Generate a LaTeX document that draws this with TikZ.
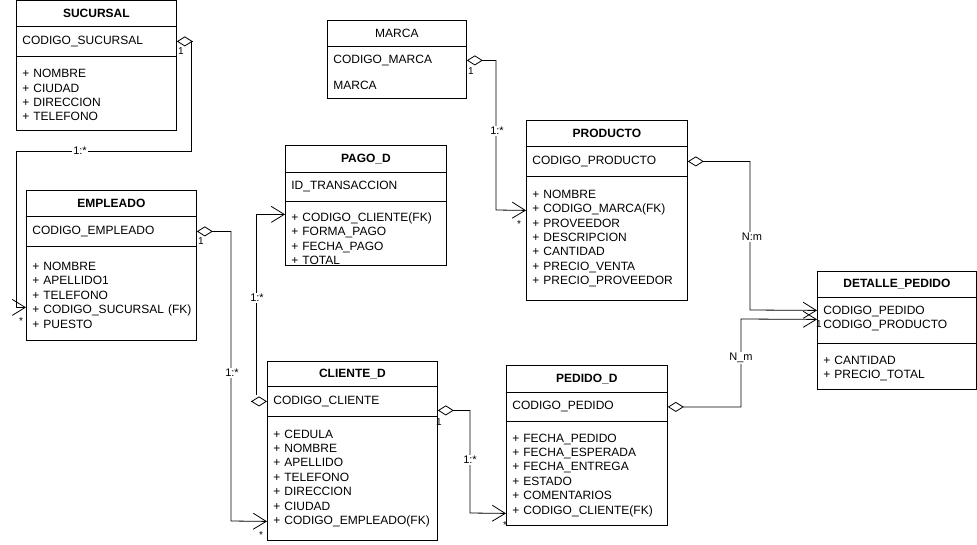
\documentclass[tikz,border=0pt]{standalone}
\usepackage{fontspec}
\setmainfont{Liberation Sans}
\usetikzlibrary{arrows.meta}

\begin{document}
\begin{tikzpicture}[x=1pt, y=-1pt, line width=0.8pt,
    ttl/.style={rectangle, draw, anchor=north west, inner sep=0pt, font=\fontsize{12}{14.4}\selectfont\bfseries},
    cmp/.style={rectangle, draw, anchor=north west, align=left, inner xsep=6pt, inner ysep=0pt, font=\fontsize{12}{14.4}\selectfont},
    rel/.style={{Diamond[open,length=16pt,width=10pt]}-{Straight Barb[length=13pt,width=16pt]}},
    dia/.style={{Diamond[open,length=16pt,width=10pt]}-},
    opn/.style={-{Straight Barb[length=13pt,width=16pt]}},
    card/.style={fill=white, inner sep=1pt, font=\fontsize{11}{12}\selectfont},
    mult/.style={inner sep=0pt, font=\fontsize{10}{11}\selectfont}
]
\useasboundingbox (0,0) rectangle (977,544);

% SUCURSAL
\node[ttl, minimum width=160, minimum height=26] (suc_t) at (16,0) {SUCURSAL};
\node[cmp, text width=148pt, minimum height=30] (suc_k) at (16,26) {CODIGO\_SUCURSAL};
\node[cmp, text width=148pt, minimum height=74] (suc_a) at (16,56) {\rule{0pt}{12pt}+ NOMBRE\\+ CIUDAD\\+ DIRECCION\\+ TELEFONO};

% EMPLEADO
\node[ttl, minimum width=170, minimum height=26] (emp_t) at (26,190) {EMPLEADO};
\node[cmp, text width=158pt, minimum height=30] (emp_k) at (26,216) {CODIGO\_EMPLEADO};
\node[cmp, text width=158pt, minimum height=94] (emp_a) at (26,246) {\rule{0pt}{12pt}+ NOMBRE\\+ APELLIDO1\\+ TELEFONO\\\mbox{+ CODIGO\_SUCURSAL (FK)}\\+ PUESTO};

% PAGO_D
\node[ttl, minimum width=161, minimum height=27] (pago_t) at (285,145) {PAGO\_D};
\node[cmp, text width=149pt, minimum height=29] (pago_k) at (285,172) {ID\_TRANSACCION};
\node[cmp, text width=149pt, minimum height=64] (pago_a) at (285,201) {\rule{0pt}{19pt}+ CODIGO\_CLIENTE(FK)\\+ FORMA\_PAGO\\+ FECHA\_PAGO\\+ TOTAL};

% MARCA
\node[ttl, font=\fontsize{12}{14.4}\selectfont, minimum width=139, minimum height=26] (mar_t) at (327,20) {MARCA};
\node[cmp, text width=127pt, minimum height=52] (mar_a) at (327,46) {CODIGO\_MARCA\\[11.6pt]MARCA};

% PRODUCTO
\node[ttl, minimum width=161, minimum height=26] (prod_t) at (526,120) {PRODUCTO};
\node[cmp, text width=149pt, minimum height=30] (prod_k) at (526,146) {CODIGO\_PRODUCTO};
\node[cmp, text width=149pt, minimum height=124] (prod_a) at (526,176) {+ NOMBRE\\+ CODIGO\_MARCA(FK)\\+ PROVEEDOR\\+ DESCRIPCION\\+ CANTIDAD\\+ PRECIO\_VENTA\\+ PRECIO\_PROVEEDOR};

% DETALLE_PEDIDO
\node[ttl, minimum width=159, minimum height=26] (det_t) at (817,271) {DETALLE\_PEDIDO};
\node[cmp, text width=147pt, minimum height=46] (det_k) at (817,297) {CODIGO\_PEDIDO\\CODIGO\_PRODUCTO\rule[-6pt]{0pt}{6pt}};
\node[cmp, text width=147pt, minimum height=46] (det_a) at (817,343) {\rule{0pt}{13pt}+ CANTIDAD\\+ PRECIO\_TOTAL};

% CLIENTE_D
\node[ttl, minimum width=170, minimum height=25] (cli_t) at (267,361) {CLIENTE\_D};
\node[cmp, text width=158pt, minimum height=30] (cli_k) at (267,386) {CODIGO\_CLIENTE};
\node[cmp, text width=158pt, minimum height=124] (cli_a) at (267,416) {+ CEDULA\\+ NOMBRE\\+ APELLIDO\\+ TELEFONO\\+ DIRECCION\\+ CIUDAD\\+ CODIGO\_EMPLEADO(FK)};

% PEDIDO_D
\node[ttl, minimum width=161, minimum height=27] (ped_t) at (506,365) {PEDIDO\_D};
\node[cmp, text width=149pt, minimum height=29] (ped_k) at (506,392) {CODIGO\_PEDIDO};
\node[cmp, text width=149pt, minimum height=104] (ped_a) at (506,421) {\rule{0pt}{12pt}+ FECHA\_PEDIDO\\+ FECHA\_ESPERADA\\+ FECHA\_ENTREGA\\+ ESTADO\\+ COMENTARIOS\\+ CODIGO\_CLIENTE(FK)};

% Relations
\draw[rel] (suc_k.east) -- ++(15,0) |- (16,151) |- ([yshift=-14pt]emp_a.west);
\draw[rel] (emp_k.east) -| (231,521) -- ([yshift=-43pt]cli_a.west);
\draw[dia] (cli_k.west) -- ++(-16,0);
\coordinate (c_pago) at (256,395);
\draw[opn] (c_pago) |- ([yshift=19pt]pago_a.west);
\draw[rel] ([yshift=-9pt]cli_k.east) -| (470,513) -- ([yshift=-40pt]ped_a.west);
\draw[rel] ([yshift=12pt]mar_a.east) -| (496,210) -- ([yshift=28pt]prod_a.west);
\draw[rel] (prod_k.east) -| (750,310) -- ([yshift=10pt]det_k.west);
\draw[rel] (ped_k.east) -| (741,319) -- ([yshift=1pt]det_k.west);

% Cardinalities
\node[card] (l_suc) at (80,151) {1:*};
\node[card] (l_emp) at (232,373) {1:*};
\node[card] (l_pago) at (257,298) {1:*};
\node[card] (l_ped) at (470,460) {1:*};
\node[card] (l_mar) at (497,131) {1:*};
\node[card] (l_prod) at (752,237) {N:m};
\node[card] (l_det) at (741,358) {N\_m};

% Multiplicities
\node[mult] (s_one) at (181,51) {1};
\node[mult] (e_many) at (21,321) {*};
\node[mult] (e_one) at (201,241) {1};
\node[mult] (c_many) at (261,535) {*};
\node[mult] (m_one) at (471,71) {1};
\node[mult] (p_many) at (519,224) {*};
\node[mult] (c_one) at (439,422) {1};
\node[mult] (pd_many) at (505,525) {*};
\node[mult] (d_one) at (819,324) {1};

\end{tikzpicture}
\end{document}
